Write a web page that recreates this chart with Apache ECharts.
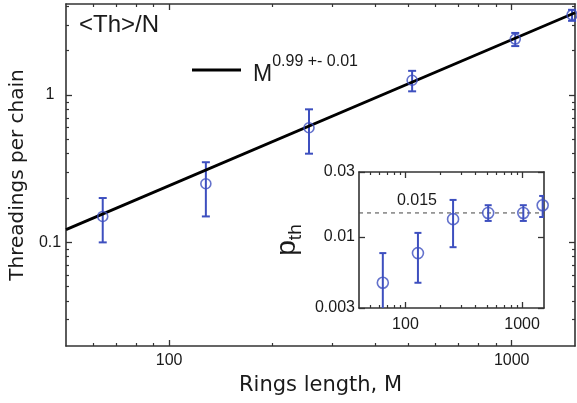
<!DOCTYPE html>
<html>
<head>
<meta charset="utf-8">
<script src="https://cdn.jsdelivr.net/npm/echarts@6/dist/echarts.min.js"></script>
<style>
  html, body { margin: 0; padding: 0; background: #fff; }
  #chart { width: 577px; height: 403px; }
</style>
</head>
<body>
<div id="chart"></div>
<script>
// Ring lengths M (both panels share them)
const ringLength = [64, 128, 256, 512, 1024, 1500];

// Main panel: threadings per chain with error bounds
const threadings     = [0.15, 0.25, 0.60, 1.26, 2.40, 3.50];
const threadingsLow  = [0.10, 0.15, 0.40, 1.06, 2.15, 3.19];
const threadingsHigh = [0.20, 0.35, 0.80, 1.46, 2.64, 3.79];

// Power-law fit M^0.99 (end points across the axis range)
const fitLine = [[50, 0.122], [1530, 3.62]];
const fitExponent = '0.99 +- 0.01';

// Inset: threading probability p_th with error bounds
const pTh     = [0.0046, 0.0076, 0.0135, 0.0150, 0.0150, 0.0171];
const pThLow  = [0.0028, 0.0046, 0.0084, 0.0131, 0.0131, 0.0140];
const pThHigh = [0.0076, 0.0107, 0.0187, 0.0171, 0.0171, 0.0200];
const pThLevel = 0.015;

// Tick values
const mainXTicks  = [100, 1000];
const mainXMinor  = [60, 70, 80, 90, 200, 300, 400, 500, 600, 700, 800, 900];
const mainYTicks  = [0.1, 1];
const mainYMinor  = [0.03, 0.04, 0.05, 0.06, 0.07, 0.08, 0.09,
                     0.2, 0.3, 0.4, 0.5, 0.6, 0.7, 0.8, 0.9, 2, 3, 4];
const insetXTicks = [100, 1000];
const insetXMinor = [50, 60, 70, 80, 90, 200, 300, 400, 500, 600, 700, 800, 900];
const insetYTicks = [0.003, 0.01, 0.03];

const BLUE = '#3d4fbf';
const FRAME = '#333';
const TEXT = '#1a1a1a';
const SANS = '"Liberation Sans", Arial, Helvetica, sans-serif';
const DEJAVU = '"DejaVu Sans", Verdana, sans-serif';

function logAxis(extra) {
  return Object.assign({
    type: 'log',
    logBase: 10,
    splitLine: { show: false },
    axisLine: { show: true, onZero: false, lineStyle: { color: FRAME, width: 1.6 } },
    axisLabel: { show: false },
    axisTick: { show: true, inside: true, length: 6, lineStyle: { color: FRAME, width: 1.3 } },
    minorTick: { show: false }
  }, extra);
}
function minorAxis(extra, values) {
  return logAxis(Object.assign({
    axisLine: { show: false },
    axisTick: { show: true, inside: true, length: 3, customValues: values, lineStyle: { color: FRAME, width: 1.2 } }
  }, extra));
}
function majorTicks(values) {
  return { show: true, inside: true, length: 6, customValues: values, lineStyle: { color: FRAME, width: 1.3 } };
}

function errorBars(xIdx, yIdx, lows, highs, capHalf, clip, z) {
  return {
    type: 'custom',
    xAxisIndex: xIdx,
    yAxisIndex: yIdx,
    clip: clip,
    silent: true,
    z: z,
    data: ringLength.map((m, i) => [m, lows[i], highs[i]]),
    renderItem(params, api) {
      const lo = api.coord([api.value(0), api.value(1)]);
      const hi = api.coord([api.value(0), api.value(2)]);
      const style = { stroke: BLUE, lineWidth: 2 };
      return {
        type: 'group',
        children: [
          { type: 'line', shape: { x1: hi[0], y1: hi[1], x2: lo[0], y2: lo[1] }, style },
          { type: 'line', shape: { x1: hi[0] - capHalf, y1: hi[1], x2: hi[0] + capHalf, y2: hi[1] }, style },
          { type: 'line', shape: { x1: lo[0] - capHalf, y1: lo[1], x2: lo[0] + capHalf, y2: lo[1] }, style }
        ]
      };
    }
  };
}

const chart = echarts.init(document.getElementById('chart'), null, { renderer: 'canvas' });

const mainX = [50, 1530];
const mainY = [0.0198, 4.15];
const insetX = [40, 1540];
const insetY = [0.003, 0.03];

chart.setOption({
  animation: false,
  backgroundColor: '#fff',
  title: {
    text: '<Th>/N',
    left: 74,
    top: 8,
    textStyle: { fontFamily: SANS, fontSize: 24, fontWeight: 'normal', color: TEXT }
  },
  legend: {
    data: ['fit'],
    left: 187,
    top: 49,
    icon: 'rect',
    itemWidth: 49,
    itemHeight: 3,
    selectedMode: false,
    formatter: () => '{m|M}{s|' + fitExponent + '}',
    textStyle: {
      color: TEXT,
      rich: {
        m: { fontFamily: SANS, fontSize: 23, lineHeight: 32, verticalAlign: 'bottom', padding: [0, 0, 0, 7], color: TEXT },
        s: { fontFamily: SANS, fontSize: 16, lineHeight: 16, verticalAlign: 'top', color: TEXT }
      }
    }
  },
  grid: [
    { left: 66, top: 4, width: 509, height: 342, outerBoundsMode: 'none' },
    { left: 359, top: 172, width: 185, height: 136, show: true, backgroundColor: '#fff', borderWidth: 0, outerBoundsMode: 'none', z: 5 }
  ],
  xAxis: [
    // main panel
    logAxis({ gridIndex: 0, position: 'bottom', min: mainX[0], max: mainX[1],
      axisTick: majorTicks(mainXTicks),
      axisLabel: { show: true, customValues: mainXTicks, margin: 7, fontFamily: SANS, fontSize: 16, color: TEXT, formatter: v => String(v) },
      name: 'Rings length, M', nameLocation: 'middle', nameGap: 29,
      nameTextStyle: { fontFamily: DEJAVU, fontSize: 21, color: TEXT } }),
    minorAxis({ gridIndex: 0, position: 'bottom', min: mainX[0], max: mainX[1] }, mainXMinor),
    logAxis({ gridIndex: 0, position: 'top', min: mainX[0], max: mainX[1], axisTick: majorTicks(mainXTicks) }),
    minorAxis({ gridIndex: 0, position: 'top', min: mainX[0], max: mainX[1] }, mainXMinor),
    // inset
    logAxis({ gridIndex: 1, position: 'bottom', min: insetX[0], max: insetX[1], z: 6,
      axisTick: majorTicks(insetXTicks),
      axisLabel: { show: true, customValues: insetXTicks, margin: 9, fontFamily: SANS, fontSize: 16, color: TEXT, formatter: v => String(v) } }),
    minorAxis({ gridIndex: 1, position: 'bottom', min: insetX[0], max: insetX[1], z: 6 }, insetXMinor),
    logAxis({ gridIndex: 1, position: 'top', min: insetX[0], max: insetX[1], z: 6, axisTick: majorTicks(insetXTicks) }),
    minorAxis({ gridIndex: 1, position: 'top', min: insetX[0], max: insetX[1], z: 6 }, insetXMinor)
  ],
  yAxis: [
    // main panel
    logAxis({ gridIndex: 0, position: 'left', min: mainY[0], max: mainY[1],
      axisTick: majorTicks(mainYTicks),
      axisLabel: { show: true, customValues: mainYTicks, margin: 16, align: 'center', fontFamily: SANS, fontSize: 16, color: TEXT, formatter: v => String(v) },
      name: 'Threadings per chain', nameLocation: 'middle', nameGap: 30, nameRotate: 90,
      nameTextStyle: { fontFamily: DEJAVU, fontSize: 20, color: TEXT } }),
    minorAxis({ gridIndex: 0, position: 'left', min: mainY[0], max: mainY[1] }, mainYMinor),
    logAxis({ gridIndex: 0, position: 'right', min: mainY[0], max: mainY[1], axisTick: majorTicks(mainYTicks) }),
    minorAxis({ gridIndex: 0, position: 'right', min: mainY[0], max: mainY[1] }, mainYMinor),
    // inset
    logAxis({ gridIndex: 1, position: 'left', min: insetY[0], max: insetY[1], z: 6,
      axisTick: majorTicks(insetYTicks),
      axisLabel: { show: true, customValues: insetYTicks, margin: 4, fontFamily: SANS, fontSize: 16, color: TEXT, formatter: v => String(v) },
      name: '{p|p}{s|th}', nameLocation: 'middle', nameGap: 58, nameRotate: 90,
      nameTextStyle: {
        color: TEXT,
        rich: {
          p: { fontFamily: SANS, fontSize: 28, lineHeight: 28, color: TEXT },
          s: { fontFamily: SANS, fontSize: 19, lineHeight: 19, verticalAlign: 'bottom', padding: [0, 0, -4, 0], color: TEXT }
        }
      } }),
    logAxis({ gridIndex: 1, position: 'right', min: insetY[0], max: insetY[1], z: 6, axisTick: majorTicks(insetYTicks) })
  ],
  series: [
    {
      name: 'fit',
      type: 'line',
      xAxisIndex: 0,
      yAxisIndex: 0,
      data: fitLine,
      showSymbol: false,
      symbol: 'none',
      itemStyle: { color: '#000' },
      lineStyle: { color: '#000', width: 2.8 },
      z: 3
    },
    errorBars(0, 0, threadingsLow, threadingsHigh, 4, false, 3),
    {
      name: 'threadings',
      type: 'scatter',
      xAxisIndex: 0,
      yAxisIndex: 0,
      data: ringLength.map((m, i) => [m, threadings[i]]),
      symbol: 'circle',
      symbolSize: 10,
      itemStyle: { color: 'rgba(0,0,0,0)', borderColor: BLUE, borderWidth: 1.6 },
      z: 4
    },
    // plateau level of p_th, labelled with its value
    {
      name: 'level',
      type: 'line',
      xAxisIndex: 4,
      yAxisIndex: 4,
      silent: true,
      z: 7,
      symbol: 'circle',
      symbolSize: 0.1,
      showSymbol: true,
      itemStyle: { color: 'rgba(0,0,0,0)' },
      lineStyle: { color: '#444', width: 1, type: [4, 4] },
      data: [
        { value: [insetX[0], pThLevel],
          label: { show: true, position: [38, -20], formatter: p => String(p.value[1]),
                   fontFamily: SANS, fontSize: 16, color: TEXT } },
        { value: [insetX[1], pThLevel] }
      ]
    },
    errorBars(4, 4, pThLow, pThHigh, 3.5, true, 8),
    {
      name: 'pth',
      type: 'scatter',
      xAxisIndex: 4,
      yAxisIndex: 4,
      data: ringLength.map((m, i) => [m, pTh[i]]),
      symbol: 'circle',
      symbolSize: 11,
      itemStyle: { color: 'rgba(0,0,0,0)', borderColor: BLUE, borderWidth: 1.6 },
      z: 9
    }
  ]
});
</script>
</body>
</html>
